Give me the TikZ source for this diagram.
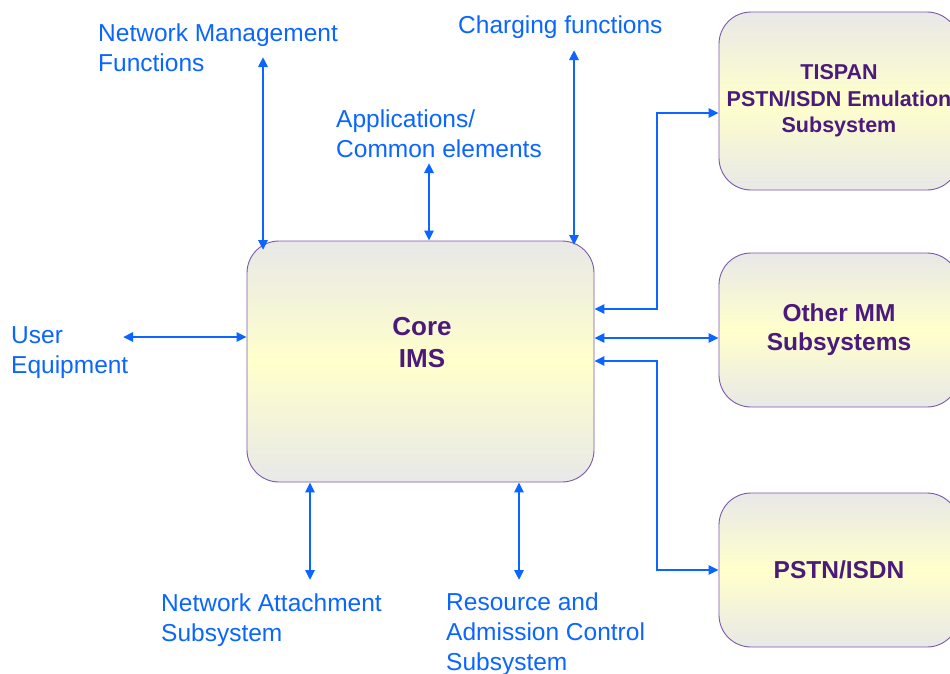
\documentclass[tikz,border=0pt]{standalone}
\usepackage{fontspec}
\setmainfont{Liberation Sans}
\usetikzlibrary{arrows.meta}
\definecolor{lblue}{HTML}{0A66FF}
\definecolor{tpurple}{HTML}{4B1A7B}
\definecolor{bpurple}{HTML}{7A5AA8}
\definecolor{bgray}{HTML}{E8E8E8}
\definecolor{byellow}{HTML}{FFFFCC}
\begin{document}
\begin{tikzpicture}[x=1pt,y=-1pt,
  sysbox/.style={draw=bpurple, line width=0.9pt, rounded corners=32pt,
    top color=bgray, bottom color=bgray, middle color=byellow, inner sep=0pt},
  systext/.style={text=tpurple, align=center, inner sep=0pt},
  lbl/.style={text=lblue, align=left, inner sep=0pt, anchor=base west,
    font=\fontsize{24.5}{30}\selectfont},
  arr/.style={draw=lblue, line width=2.8pt,
    {Triangle[length=10pt,width=9pt]}-{Triangle[length=10pt,width=9pt]}}]
\clip (0,0) rectangle (950,673);
\fill[white] (0,0) rectangle (950,673);

% boxes
\node[sysbox, minimum width=347pt, minimum height=241pt] (core) at (420.5,361.5) {};
\node[systext, font=\bfseries\fontsize{26}{32}\selectfont] (coretext) at (422,343) {Core\\IMS};
\node[sysbox, systext, minimum width=240pt, minimum height=178pt,
  font=\bfseries\fontsize{21.5}{26.5}\selectfont] (tispan) at (839,101)
  {TISPAN\\PSTN/ISDN Emulation\\Subsystem};
\node[sysbox, systext, minimum width=240pt, minimum height=154pt,
  font=\bfseries\fontsize{24.5}{29}\selectfont] (other) at (839,330)
  {Other MM\\Subsystems};
\node[sysbox, systext, minimum width=240pt, minimum height=154pt,
  font=\bfseries\fontsize{24.5}{29}\selectfont] (pstn) at (839,570)
  {PSTN/ISDN};

% labels (anchor = baseline of last line)
\node[lbl] (nmf) at (98,71) {Network Management\\Functions};
\node[lbl] (chg) at (458,33) {Charging functions};
\node[lbl] (app) at (336,157) {Applications/\\Common elements};
\node[lbl] (ue) at (11,373) {User\\Equipment};
\node[lbl] (nas) at (161,641) {Network Attachment\\Subsystem};
\node[lbl] (racs) at (446,670) {Resource and\\Admission Control\\Subsystem};

% free ends
\coordinate (nmfE) at (263,57);
\coordinate (nmfC) at (263,250);
\coordinate (appE) at (429,163);
\coordinate (chgE) at (574,50);
\coordinate (chgC) at (574,245);
\coordinate (ueE) at (123,337);
\coordinate (nasE) at (310,580);
\coordinate (racsE) at (519,580);
\coordinate (jx) at (657,0);

% connectors
\draw[arr] (nmfE) -- (nmfC);
\draw[arr] (appE) -- (appE |- core.north);
\draw[arr] (chgE) -- (chgC);
\draw[arr] (ueE) -- (ueE -| core.west);
\draw[arr] (nasE) -- (nasE |- core.south);
\draw[arr] (racsE) -- (racsE |- core.south);
\draw[arr] (core.east |- 0,309) -| (jx |- 0,113) -- (tispan.west |- 0,113);
\draw[arr] (core.east |- 0,338) -- (other.west |- 0,338);
\draw[arr] (core.east |- 0,361) -| (jx |- pstn.west) -- (pstn.west);
\end{tikzpicture}
\end{document}
